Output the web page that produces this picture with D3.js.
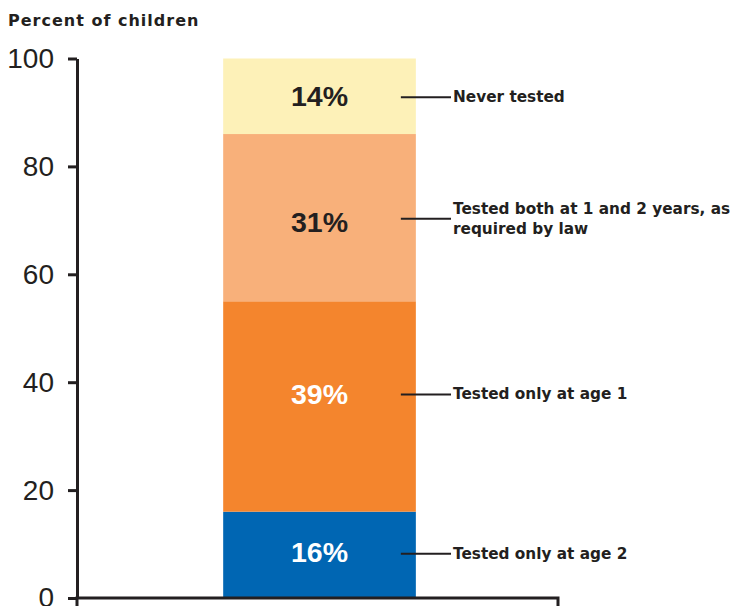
<!DOCTYPE html>
<html>
<head>
<meta charset="utf-8">
<script src="https://cdn.jsdelivr.net/npm/d3@7"></script>
<style>
  html, body { margin: 0; padding: 0; background: #fff; }
  svg { display: block; }
</style>
</head>
<body>
<svg id="chart" width="733" height="606"></svg>
<script>
// ---- data ----
const categories = ["All children"];
const segmentNames = ["Tested only at age 2", "Tested only at age 1", "Tested both at 1 and 2 years, as required by law", "Never tested"];
const segmentValues = [16, 39, 31, 14];
const segmentColors = ["#0066b3", "#f4852d", "#f8b07a", "#fdf1b8"];
const valueTextColors = ["#ffffff", "#ffffff", "#231f20", "#231f20"];
const yTicks = [0, 20, 40, 60, 80, 100];
const yTitle = "Percent of children";

// ---- layout ----
const svg = d3.select("#chart");
const dark = "#231f20";
const axisX = 77, axisRight = 558, baseY = 598, topY = 58.5;

const x = d3.scaleBand().domain(categories).range([axisX, axisRight]).padding(0.428).align(0.507);
const y = d3.scaleLinear().domain([0, 100]).range([baseY, topY]);

// stacked segments
let cum = 0;
const segs = segmentValues.map((v, i) => {
  const s = { name: segmentNames[i], value: v, y0: cum, y1: cum + v, color: segmentColors[i], tc: valueTextColors[i] };
  cum += v;
  return s;
});

const bx = x(categories[0]), bw = x.bandwidth();

svg.append("g").selectAll("rect").data(segs).join("rect")
  .attr("x", bx).attr("width", bw)
  .attr("y", d => y(d.y1)).attr("height", d => y(d.y0) - y(d.y1))
  .attr("fill", d => d.color);

// value labels
const labelNudge = [-3, -12, 4, 0];
svg.append("g").selectAll("text").data(segs).join("text")
  .attr("x", bx + bw / 2)
  .attr("y", (d, i) => (y(d.y0) + y(d.y1)) / 2 + labelNudge[i])
  .attr("text-anchor", "middle")
  .attr("dominant-baseline", "central")
  .attr("font-family", "Liberation Sans, Arial, sans-serif")
  .attr("font-weight", "bold")
  .attr("font-size", 28.5)
  .attr("fill", d => d.tc)
  .text(d => d.value + "%");

// annotations
const leadNudge = [-1, -12, 1, 1];
const ann = svg.append("g");
segs.forEach((d, i) => {
  const cy = (y(d.y0) + y(d.y1)) / 2 + leadNudge[i];
  ann.append("line")
    .attr("x1", bx + bw - 15).attr("x2", 451)
    .attr("y1", cy).attr("y2", cy)
    .attr("stroke", dark).attr("stroke-width", 2);
  const words = d.name.split(", as ");
  const t = ann.append("text")
    .attr("x", 453)
    .attr("font-family", "DejaVu Sans, sans-serif")
    .attr("font-weight", "bold")
    .attr("font-size", 15.3)
    .attr("fill", dark);
  if (words.length > 1) {
    t.append("tspan").attr("x", 453).attr("y", cy - 10).attr("dominant-baseline", "central").text(words[0] + ", as");
    t.append("tspan").attr("x", 453).attr("y", cy + 10).attr("dominant-baseline", "central").text(words[1]);
  } else {
    t.attr("y", cy).attr("dominant-baseline", "central").text(d.name);
  }
});

// y axis
const yAxis = d3.axisLeft(y).tickValues(yTicks).tickSize(9).tickPadding(14).tickSizeOuter(0);
const gy = svg.append("g").attr("transform", `translate(${axisX},0)`).call(yAxis);
gy.select(".domain").attr("stroke", dark).attr("stroke-width", 3);
gy.selectAll(".tick line").attr("stroke", dark).attr("stroke-width", 3);
gy.selectAll(".tick text")
  .attr("font-family", "Liberation Sans, Arial, sans-serif")
  .attr("font-size", 28)
  .attr("fill", dark);

// x axis baseline
const xAxis = d3.axisBottom(x).tickValues([]).tickSizeOuter(10);
const gx = svg.append("g").attr("transform", `translate(0,${baseY})`).call(xAxis);
gx.select(".domain").attr("stroke", dark).attr("stroke-width", 3).attr("fill", "none")
  .attr("d", `M${axisX},10V0H${axisRight}V10`);

// title
svg.append("text")
  .attr("x", 8).attr("y", 26)
  .attr("font-family", "DejaVu Sans, sans-serif")
  .attr("font-weight", "bold")
  .attr("font-size", 16)
  .attr("letter-spacing", 1)
  .attr("fill", dark)
  .text(yTitle);
</script>
</body>
</html>
